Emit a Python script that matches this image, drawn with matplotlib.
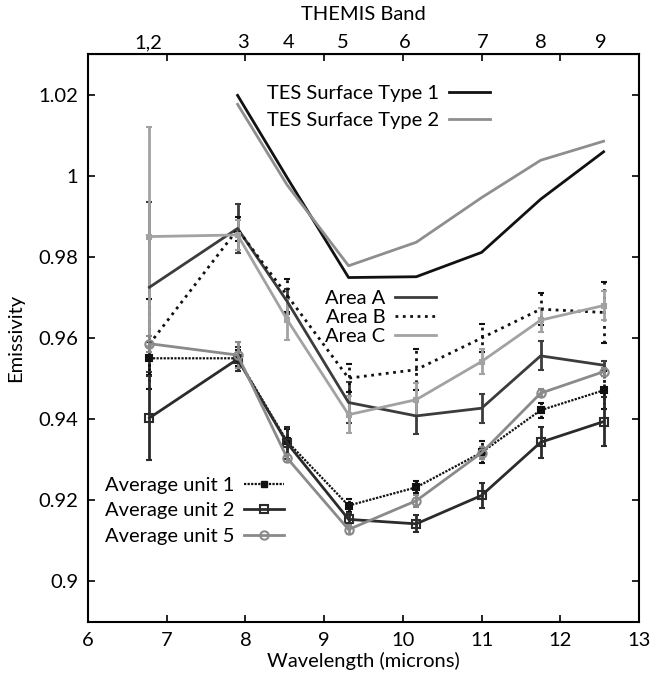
import matplotlib
matplotlib.use("Agg")
import matplotlib.pyplot as plt
from matplotlib.lines import Line2D

plt.rcParams['font.family'] = ['Lato', 'DejaVu Sans']

# THEMIS band centres (microns)
wl = [6.78, 7.90, 8.53, 9.31, 10.17, 11.00, 11.75, 12.55]
band_pos = [6.76, 7.97, 8.55, 9.24, 10.02, 11.02, 11.75, 12.52]
band_labels = ['1,2', '3', '4', '5', '6', '7', '8', '9']

# TES surface types (no band 1,2)
tes1 = [1.0198, 0.9995, 0.9749, 0.9751, 0.9811, 0.9942, 1.0059]
tes2 = [1.0176, 0.9977, 0.9778, 0.9836, 0.9946, 1.0038, 1.0085]

area_a = [0.9725, 0.9870, 0.9690, 0.9441, 0.9408, 0.9427, 0.9556, 0.9533]
area_a_err = [0.021, 0.006, 0.003, 0.005, 0.0045, 0.0036, 0.0036, 0.001]
area_b = [0.9585, 0.9868, 0.9705, 0.9501, 0.9522, 0.9600, 0.9671, 0.9663]
area_b_err = [0.011, 0.003, 0.004, 0.0035, 0.005, 0.0035, 0.004, 0.0075]
area_c = [0.9850, 0.9854, 0.9645, 0.9411, 0.9448, 0.9542, 0.9644, 0.9680]
area_c_err = [0.027, 0.0037, 0.005, 0.0045, 0.004, 0.003, 0.003, 0.0035]

unit1 = [0.9550, 0.9550, 0.9345, 0.9187, 0.9232, 0.9318, 0.9422, 0.9471]
unit1_err = [0.004, 0.002, 0.003, 0.0015, 0.0015, 0.0027, 0.0018, 0.0047]
unit2 = [0.9403, 0.9548, 0.9341, 0.9153, 0.9142, 0.9212, 0.9343, 0.9394]
unit2_err = [0.0103, 0.0029, 0.004, 0.0015, 0.0021, 0.003, 0.0038, 0.006]
unit5 = [0.9586, 0.9558, 0.9304, 0.9128, 0.9199, 0.9317, 0.9464, 0.9517]
unit5_err = [0.002, 0.0033, 0.001, 0.001, 0.0015, 0.0015, 0.001, 0.001]

fs = 14.5
fig = plt.figure(figsize=(6.53, 6.79), dpi=100)
ax = fig.add_axes([0.1348, 0.0839, 0.8438, 0.8366])

# TES lines
l1, = ax.plot(wl[1:], tes1, color='#111111', lw=2)
l2, = ax.plot(wl[1:], tes2, color='#8e8e8e', lw=2)

def eb(y, err, color, ls, lw, marker=None, ms=0, mfc=None):
    c = ax.errorbar(wl, y, yerr=err, color=color, ls=ls, lw=lw, marker=marker,
                    ms=ms, mfc=mfc if mfc else color, mec=color, mew=1.5,
                    capsize=2.5, capthick=2, elinewidth=2)
    if ls != '-':
        c[2][0].set_linestyle(ls)
    return c

eb(area_a, area_a_err, '#3c3c3c', '-', 2)
eb(area_b, area_b_err, '#111111', ':', 2)
eb(area_c, area_c_err, '#a2a2a2', '-', 2, marker='s', ms=3)

u1_ls = (0, (1, 0.6))
eb(unit1, unit1_err, '#111111', u1_ls, 1.6, marker='s', ms=5)
eb(unit2, unit2_err, '#2b2b2b', '-', 2, marker='s', ms=6, mfc='none')
eb(unit5, unit5_err, '#8a8a8a', '-', 2, marker='o', ms=6, mfc='none')

ax.set_xlim(6, 13)
ax.set_ylim(0.89, 1.03)
ax.set_xticks([6, 7, 8, 9, 10, 11, 12, 13])
ax.set_yticks([0.9, 0.92, 0.94, 0.96, 0.98, 1.0, 1.02])
ax.set_yticklabels(['0.9', '0.92', '0.94', '0.96', '0.98', '1', '1.02'])
ax.tick_params(direction='in', top=True, right=True, length=5, width=1.2,
               labelsize=fs, pad=7)
for s in ax.spines.values():
    s.set_linewidth(1.5)
ax.set_xlabel('Wavelength (microns)', fontsize=fs, labelpad=2)
ax.set_ylabel('Emissivity', fontsize=fs, labelpad=10)

top = ax.secondary_xaxis('top')
top.set_xticks(band_pos)
top.set_xticklabels(band_labels)
top.tick_params(length=0, labelsize=fs, pad=2)
top.set_xlabel('THEMIS Band', fontsize=fs, labelpad=10)

leg_kw = dict(frameon=False, markerfirst=False, fontsize=fs, handlelength=2.0,
              handletextpad=0.5, borderaxespad=0, borderpad=0)
leg1 = ax.legend([l1, l2], ['TES Surface Type 1', 'TES Surface Type 2'],
                 loc='upper left', bbox_to_anchor=(0.325, 0.945),
                 labelspacing=0.5, **leg_kw)
ax.add_artist(leg1)
ha = Line2D([], [], color='#3c3c3c', lw=2)
hb = Line2D([], [], color='#111111', lw=2, ls=':')
hc = Line2D([], [], color='#a2a2a2', lw=2)
leg2 = ax.legend([ha, hb, hc], ['Area A', 'Area B', 'Area C'],
                 loc='upper left', bbox_to_anchor=(0.43, 0.585),
                 labelspacing=0.1, **leg_kw)
ax.add_artist(leg2)
h1 = Line2D([], [], color='#111111', lw=1.6, ls=u1_ls, marker='s', ms=5)
h2 = Line2D([], [], color='#2b2b2b', lw=2, marker='s', ms=6, mfc='none', mew=1.5)
h5 = Line2D([], [], color='#8a8a8a', lw=2, marker='o', ms=6, mfc='none', mew=1.5)
ax.legend([h1, h2, h5], ['Average unit 1', 'Average unit 2', 'Average unit 5'],
          loc='upper left', bbox_to_anchor=(0.03, 0.255),
          labelspacing=0.4, **leg_kw)

fig.savefig('out.png', dpi=100)
